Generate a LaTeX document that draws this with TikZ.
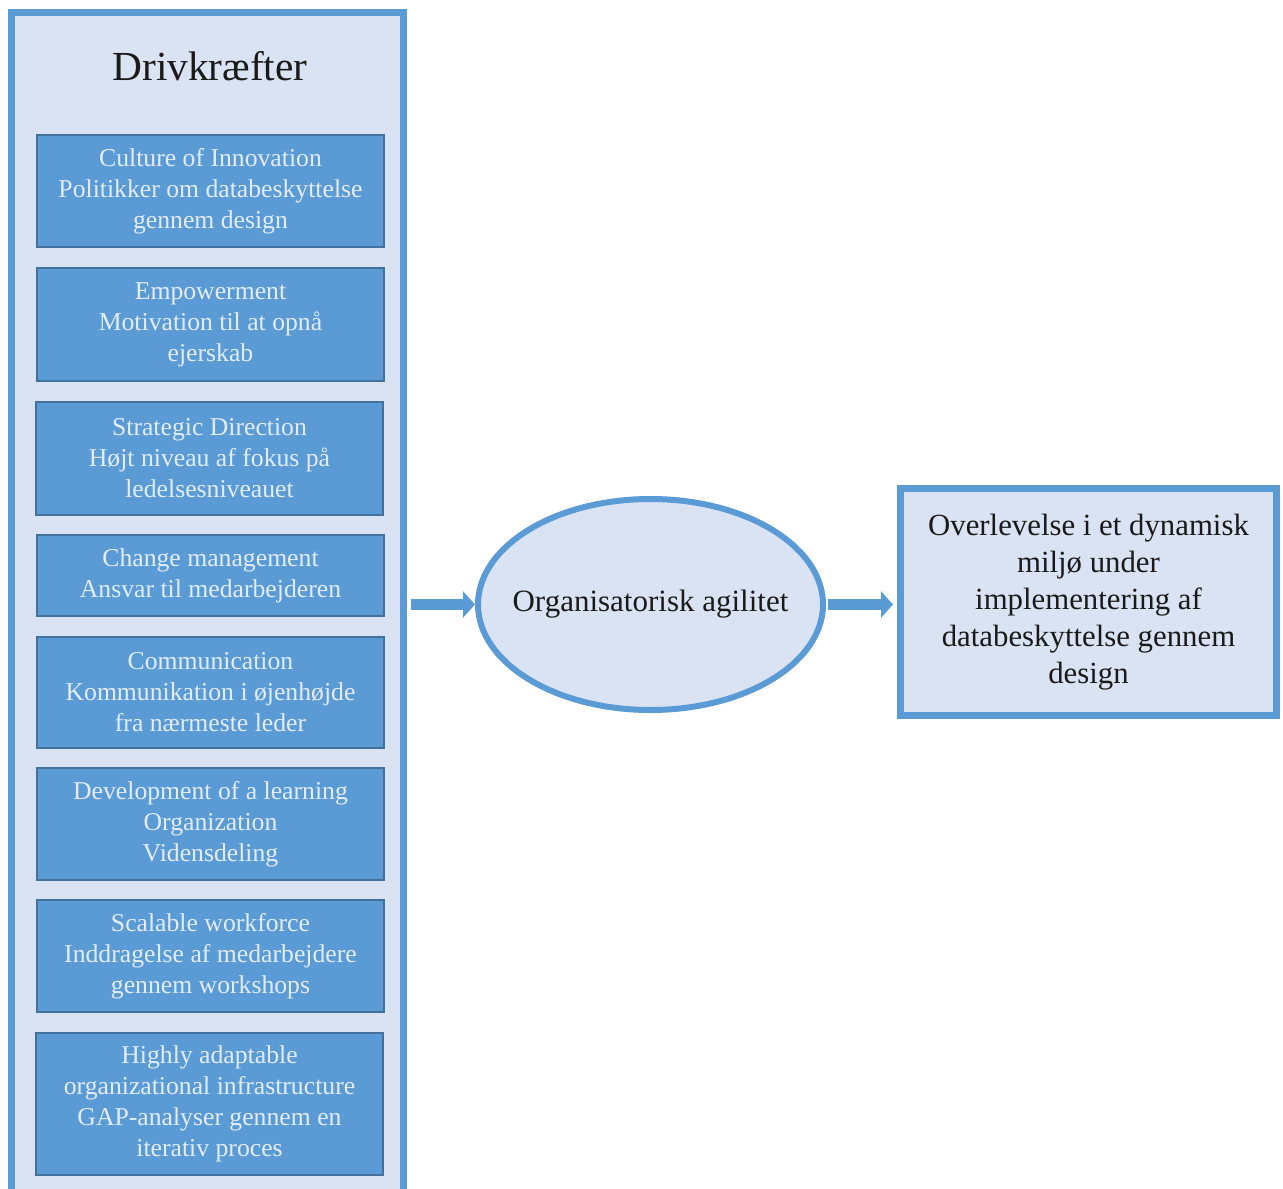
\documentclass[tikz,border=0pt]{standalone}
\usepackage{fontspec}
\setmainfont{Liberation Serif}
\usetikzlibrary{shapes.geometric,arrows.meta}
\definecolor{frameblue}{HTML}{5B9BD5}
\definecolor{paleblue}{HTML}{DAE3F3}
\definecolor{edgeblue}{HTML}{41719C}
\definecolor{lighttext}{HTML}{E2ECF8}
\definecolor{darktext}{HTML}{1A1A1A}
\tikzset{
  panel/.style={draw=frameblue, fill=paleblue, line width=7pt, inner sep=0pt},
  driver/.style={draw=edgeblue, fill=frameblue, line width=2pt, inner sep=0pt,
    minimum width=347pt, align=center, text=lighttext,
    font=\fontsize{25.7}{31}\selectfont},
  hub/.style={ellipse, draw=frameblue, fill=paleblue, line width=6pt, inner sep=0pt,
    minimum width=345pt, minimum height=211pt},
  hubtext/.style={text=darktext, font=\fontsize{31}{37}\selectfont},
  outcome/.style={draw=frameblue, fill=paleblue, line width=7pt, inner sep=0pt,
    minimum width=376pt, minimum height=227pt, align=center, text=darktext,
    font=\fontsize{30.8}{37}\selectfont},
  flow/.style={draw=frameblue, line width=11pt, -{Triangle[length=12pt,width=26pt]}}
}
\begin{document}
\begin{tikzpicture}[x=1pt,y=-1pt]
\useasboundingbox (0,0) rectangle (1283,1189);
\clip (0,0) rectangle (1283,1189);
\fill[white] (0,0) rectangle (1283,1189);

% column of driving forces
\node[panel, minimum width=392pt, minimum height=1184pt] (drv) at (207.5,604.5) {};
\node[anchor=base, text=darktext, font=\fontsize{41.3}{48}\selectfont] (title) at (210,80) {Drivkræfter};

\node[driver, minimum height=112pt] (d1) at (210.5,191) {Culture of Innovation\\Politikker om databeskyttelse\\gennem design};
\node[driver, minimum height=113pt] (d2) at (210.5,324.5) {Empowerment\\Motivation til at opnå\\ejerskab};
\node[driver, minimum height=113pt] (d3) at (209.5,458.5) {Strategic Direction\\Højt niveau af fokus på\\ledelsesniveauet};
\node[driver, minimum height=81pt] (d4) at (210.5,575.5) {Change management\\Ansvar til medarbejderen};
\node[driver, minimum height=111pt] (d5) at (210.5,692.5) {Communication\\Kommunikation i øjenhøjde\\fra nærmeste leder};
\node[driver, minimum height=112pt] (d6) at (210.5,824) {Development of a learning\\Organization\\Vidensdeling};
\node[driver, minimum height=112pt] (d7) at (210.5,956) {Scalable workforce\\Inddragelse af medarbejdere\\gennem workshops};
\node[driver, minimum height=142pt] (d8) at (209.5,1103.5) {Highly adaptable\\organizational infrastructure\\GAP-analyser gennem en\\iterativ proces};

% central concept and result
\node[hub] (agil) at (650.5,604.5) {};
\node[hubtext] (agiltext) at (agil.center) {Organisatorisk agilitet};
\node[outcome] (res) at (1088.5,602) {Overlevelse i et dynamisk\\miljø under\\implementering af\\databeskyttelse gennem\\design};

% connectors
\draw[flow] ([xshift=4pt]drv.east |- agil.west) -- (agil.west);
\draw[flow, shorten >=4pt] ([xshift=2pt]agil.east) -- (agil.east -| res.west);
\end{tikzpicture}
\end{document}
